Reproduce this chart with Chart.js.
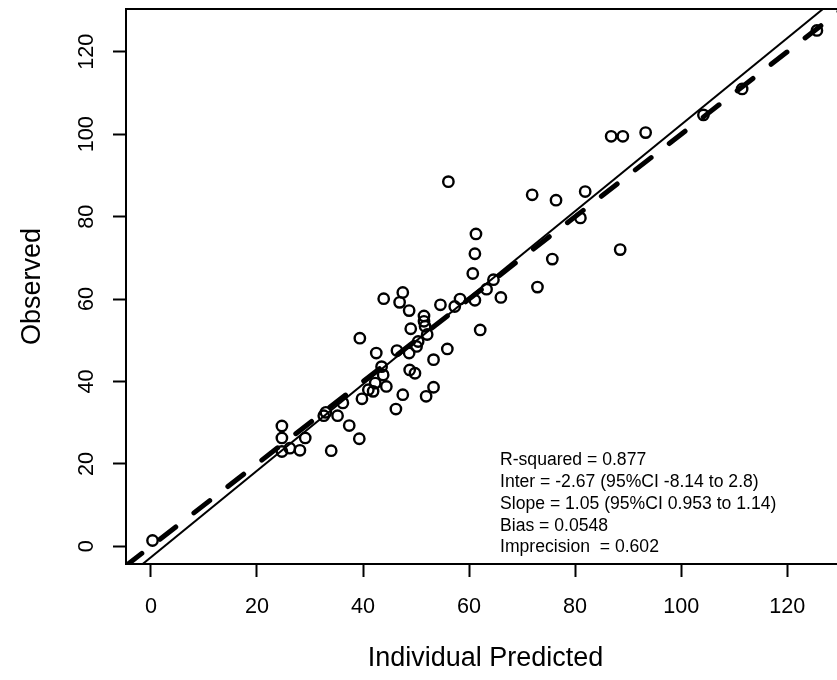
<!DOCTYPE html>
<html>
<head>
<meta charset="utf-8">
<script src="https://cdn.jsdelivr.net/npm/chart.js@4"></script>
<style>
  html, body { margin: 0; padding: 0; background: #fff; overflow: hidden; }
  /* the R plot box runs a little past the right edge of the picture */
  #wrap { position: relative; width: 850px; height: 680px; }
</style>
</head>
<body>
<div id="wrap"><canvas id="myChart"></canvas></div>
<script>
const ctx = document.getElementById("myChart").getContext("2d");

// observed vs individual predicted
const predicted = [0.3, 24.7, 24.7, 24.7, 26.2, 28.1, 29.1, 32.6, 33.0, 34.0,
  35.2, 36.2, 37.4, 39.3, 39.8, 41.0, 41.9, 42.3, 43.8, 43.5,
  44.4, 46.2, 47.5, 39.4, 42.5, 46.4, 48.7, 49.0, 48.8, 49.8,
  50.1, 50.4, 52.1, 51.7, 51.5, 51.5, 48.7, 46.9, 47.5, 43.9,
  54.6, 57.3, 58.3, 61.1, 63.3, 64.6, 66.0, 60.7, 61.1, 61.3,
  62.1, 55.9, 53.3, 53.3, 51.9, 72.9, 75.7, 71.9, 76.4, 81.0,
  81.9, 88.5, 56.1, 86.8, 89.0, 93.3, 104.2, 111.5, 125.6];
const observed = [1.4, 29.2, 26.3, 23.0, 23.8, 23.3, 26.3, 31.7, 32.5, 23.2,
  31.7, 34.8, 29.3, 26.1, 35.8, 38.0, 37.6, 39.6, 41.6, 43.6,
  38.8, 33.3, 36.8, 50.5, 46.9, 47.5, 46.9, 52.8, 42.8, 42.0,
  48.5, 49.7, 51.4, 53.4, 54.6, 55.9, 57.2, 59.2, 61.6, 60.1,
  58.6, 58.2, 60.0, 59.7, 62.4, 64.7, 60.4, 66.2, 71.0, 75.8,
  52.5, 47.9, 45.3, 38.6, 36.4, 62.9, 69.7, 85.3, 84.0, 79.7,
  86.1, 72.0, 88.5, 99.5, 99.5, 100.4, 104.7, 111.0, 125.2];

// fitted regression (solid) and line of identity (dashed)
const fitInter = -2.67;
const fitSlope = 1.05;

const xLimits = [-4.7, 130.9];
const yLimits = [-4.3, 130.4];
const xTicks = [0, 20, 40, 60, 80, 100, 120];
const yTicks = [0, 20, 40, 60, 80, 100, 120];

const statLines = [
  "R-squared = 0.877",
  "Inter = -2.67 (95%CI -8.14 to 2.8)",
  "Slope = 1.05 (95%CI 0.953 to 1.14)",
  "Bias = 0.0548",
  "Imprecision  = 0.602",
];

const FONT = "'Liberation Sans', Arial, sans-serif";

const points = predicted.map((x, i) => ({ x: x, y: observed[i] }));
const fitLine = xLimits.map((x) => ({ x: x, y: fitInter + fitSlope * x }));
const idLine = xLimits.map((x) => ({ x: x, y: x }));

// box round the plot + the stats text in the lower right
const boxAndText = {
  id: "boxAndText",
  afterDraw(chart) {
    const { ctx, chartArea } = chart;
    ctx.save();
    ctx.strokeStyle = "#000";
    ctx.lineWidth = 2;
    ctx.strokeRect(chartArea.left, chartArea.top,
      chartArea.right - chartArea.left, chartArea.bottom - chartArea.top);

    ctx.fillStyle = "#000";
    ctx.font = "17.6px " + FONT;
    ctx.textAlign = "left";
    ctx.textBaseline = "middle";
    statLines.forEach((txt, i) => {
      ctx.fillText(txt, chartArea.left + 374, chartArea.bottom - 104 + i * 21.9);
    });
    ctx.restore();
  },
};

// fixed axis sizes so the plot box lands where R put it
function fixSize(prop, size) {
  return (scale) => {
    scale[prop] = size;
    scale.paddingTop = 0;
    scale.paddingBottom = 0;
    scale.paddingLeft = 0;
    scale.paddingRight = 0;
  };
}

const myChart = new Chart(ctx, {
  type: "scatter",
  data: {
    datasets: [
      {
        label: "Identity",
        data: idLine,
        showLine: true,
        borderColor: "#000",
        borderWidth: 5,
        borderDash: [20, 23],
        borderCapStyle: "round",
        pointRadius: 0,
        clip: 0,
      },
      {
        label: "Fit",
        data: fitLine,
        showLine: true,
        borderColor: "#000",
        borderWidth: 2,
        pointRadius: 0,
        clip: 0,
      },
      {
        label: "Observed",
        data: points,
        pointStyle: "circle",
        pointRadius: 5.2,
        pointHoverRadius: 5.2,
        pointBorderWidth: 2.4,
        borderColor: "#000",
        backgroundColor: "rgba(0,0,0,0)",
      },
    ],
  },
  options: {
    responsive: true,
    maintainAspectRatio: false,
    animation: false,
    layout: { autoPadding: false, padding: { top: 9, right: 5, left: 0, bottom: 0 } },
    plugins: {
      legend: { display: false },
      tooltip: { enabled: false },
    },
    scales: {
      x: {
        type: "linear",
        min: xLimits[0],
        max: xLimits[1],
        afterBuildTicks: (scale) => {
          scale.ticks = xTicks.map((v) => ({ value: v }));
        },
        afterFit: fixSize("height", 116),
        grid: {
          drawOnChartArea: false,
          drawTicks: true,
          tickLength: 13,
          tickWidth: 2,
          tickColor: "#000",
        },
        border: { display: true, color: "#000", width: 2 },
        ticks: {
          color: "#000",
          padding: 17,
          maxRotation: 0,
          font: { family: FONT, size: 21.6 },
        },
        title: {
          display: true,
          text: "Individual Predicted",
          color: "#000",
          padding: { top: 0, bottom: 5 },
          font: { family: FONT, size: 27 },
        },
      },
      y: {
        type: "linear",
        min: yLimits[0],
        max: yLimits[1],
        afterBuildTicks: (scale) => {
          scale.ticks = yTicks.map((v) => ({ value: v }));
        },
        afterFit: fixSize("width", 126),
        grid: {
          drawOnChartArea: false,
          drawTicks: true,
          tickLength: 13,
          tickWidth: 2,
          tickColor: "#000",
        },
        border: { display: true, color: "#000", width: 2 },
        ticks: {
          color: "#000",
          padding: 8,
          minRotation: 90,
          maxRotation: 90,
          crossAlign: "center",
          font: { family: FONT, size: 21.6 },
        },
        title: {
          display: true,
          text: "Observed",
          color: "#000",
          padding: { top: 16, bottom: 0 },
          font: { family: FONT, size: 27 },
        },
      },
    },
  },
  plugins: [boxAndText],
});
</script>
</body>
</html>
